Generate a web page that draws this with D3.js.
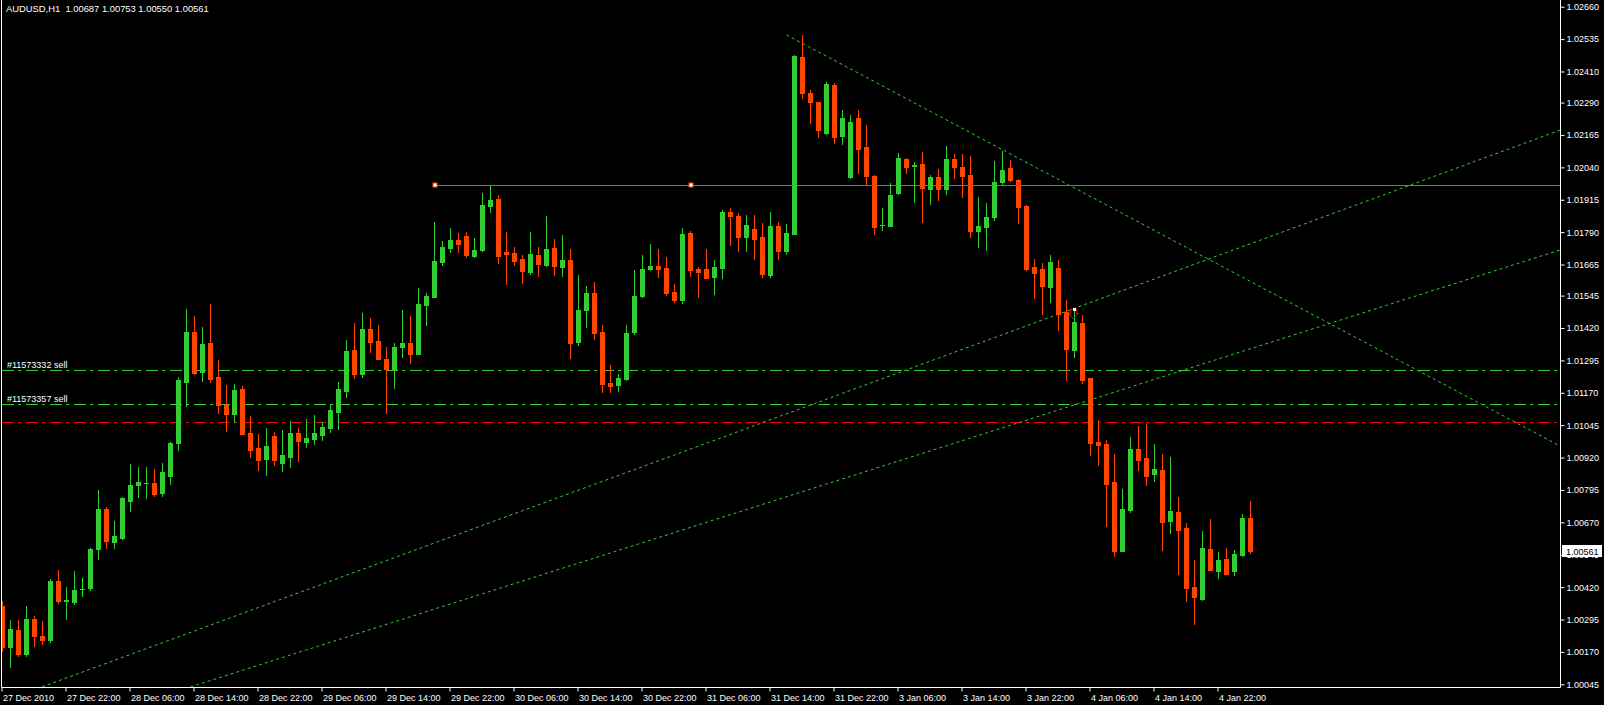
<!DOCTYPE html>
<html>
<head>
<meta charset="utf-8">
<script src="https://cdn.jsdelivr.net/npm/d3@7"></script>
<style>
  html, body { margin: 0; padding: 0; background: #000; }
  svg { display: block; }
  text { font-family: "Liberation Sans", Arial, sans-serif; }
</style>
</head>
<body>
<svg id="chart" width="1604" height="705"></svg>
<script>
// ---------------- DATA ----------------
const symbolTitle = "AUDUSD,H1";
const lastBarText = "1.00687 1.00753 1.00550 1.00561";

const open = [
1.00347,1.00189,1.00255,1.00162,1.00297,1.00232,1.00216,1.00444,1.00368,1.00363,
1.00413,1.00417,1.00567,1.00722,1.00594,1.00610,1.00753,1.00814,1.00820,1.00822,
1.00783,1.00849,1.00976,1.01212,1.01405,1.01250,1.01362,1.01231,1.01123,1.01088,
1.01185,1.01015,1.00957,1.00915,1.01003,1.00899,1.00922,1.01015,1.00980,1.00992,
1.01007,1.01034,1.01096,1.01177,1.01335,1.01243,1.01416,1.01370,1.01301,1.01262,
1.01347,1.01362,1.01320,1.01509,1.01540,1.01675,1.01729,1.01760,1.01775,1.01698,
1.01721,1.01891,1.01918,1.01713,1.01710,1.01686,1.01636,1.01702,1.01663,1.01729,
1.01656,1.01683,1.01366,1.01490,1.01555,1.01405,1.01208,1.01200,1.01223,1.01405,
1.01544,1.01648,1.01659,1.01652,1.01559,1.01528,1.01787,1.01648,1.01648,1.01617,
1.01652,1.01868,1.01852,1.01771,1.01802,1.01771,1.01625,1.01814,1.01717,1.01783,
1.02466,1.02327,1.02292,1.02173,1.02358,1.02161,1.02003,1.02231,1.02119,1.02007,
1.01816,1.01814,1.01941,1.02072,1.02047,1.02053,1.01957,1.02003,1.01957,1.02072,
1.02041,1.02011,1.01795,1.01810,1.01849,1.01984,1.02038,1.01991,1.01891,1.01656,
1.01648,1.01578,1.01652,1.01482,1.01335,1.01439,1.01227,1.00980,1.00973,1.00826,
1.00560,1.00718,1.00953,1.00919,1.00857,1.00872,1.00675,1.00710,1.00648,1.00421,
1.00374,1.00567,1.00482,1.00529,1.00482,1.00544,1.00687];

const high = [
1.00367,1.00293,1.00293,1.00347,1.00309,1.00290,1.00452,1.00486,1.00421,1.00482,
1.00455,1.00571,1.00795,1.00729,1.00675,1.00766,1.00895,1.00884,1.00884,1.00876,
1.00899,1.00980,1.01231,1.01494,1.01467,1.01424,1.01513,1.01297,1.01200,1.01204,
1.01196,1.01081,1.01011,1.01034,1.01019,1.01027,1.01061,1.01034,1.01069,1.01084,
1.01057,1.01127,1.01212,1.01374,1.01439,1.01478,1.01459,1.01432,1.01347,1.01362,
1.01490,1.01467,1.01575,1.01555,1.01829,1.01756,1.01806,1.01787,1.01791,1.01768,
1.01941,1.01968,1.01933,1.01791,1.01733,1.01702,1.01791,1.01733,1.01852,1.01764,
1.01779,1.01725,1.01625,1.01582,1.01598,1.01432,1.01277,1.01243,1.01432,1.01644,
1.01702,1.01744,1.01725,1.01694,1.01590,1.01806,1.01795,1.01656,1.01725,1.01683,
1.01876,1.01883,1.01864,1.01856,1.01856,1.01825,1.01868,1.01829,1.01822,1.02472,
1.02551,1.02339,1.02294,1.02370,1.02366,1.02261,1.02242,1.02261,1.02204,1.02009,
1.01883,1.01980,1.02096,1.02076,1.02061,1.02099,1.02011,1.02034,1.02123,1.02092,
1.02092,1.02084,1.01926,1.01903,1.02065,1.02103,1.02069,1.01995,1.01893,1.01686,
1.01671,1.01702,1.01683,1.01528,1.01497,1.01470,1.01229,1.01065,1.00988,1.00934,
1.00799,1.01000,1.01042,1.01050,1.00973,1.00934,1.00922,1.00768,1.00668,1.00525,
1.00637,1.00683,1.00556,1.00571,1.00563,1.00702,1.00753];

const low = [
1.00174,1.00112,1.00154,1.00154,1.00193,1.00201,1.00208,1.00359,1.00297,1.00355,
1.00386,1.00409,1.00529,1.00571,1.00571,1.00606,1.00714,1.00768,1.00764,1.00772,
1.00772,1.00818,1.00949,1.01119,1.01243,1.01216,1.01212,1.01092,1.01023,1.01057,
1.01011,1.00922,1.00872,1.00853,1.00892,1.00868,1.00884,1.00907,1.00961,1.00973,
1.00988,1.01019,1.01030,1.01154,1.01227,1.01231,1.01328,1.01301,1.01092,1.01189,
1.01308,1.01285,1.01318,1.01432,1.01538,1.01663,1.01713,1.01713,1.01694,1.01694,
1.01717,1.01868,1.01671,1.01590,1.01663,1.01594,1.01629,1.01621,1.01661,1.01625,
1.01621,1.01304,1.01355,1.01424,1.01378,1.01173,1.01173,1.01177,1.01221,1.01397,
1.01540,1.01644,1.01617,1.01548,1.01521,1.01517,1.01621,1.01540,1.01613,1.01551,
1.01613,1.01740,1.01717,1.01717,1.01686,1.01617,1.01617,1.01686,1.01706,1.01781,
1.02308,1.02211,1.02157,1.02169,1.02134,1.02130,1.01999,1.02018,1.01972,1.01783,
1.01798,1.01812,1.01937,1.02018,1.01906,1.01829,1.01899,1.01914,1.01937,1.01999,
1.01926,1.01771,1.01733,1.01721,1.01837,1.01976,1.01987,1.01825,1.01644,1.01536,
1.01474,1.01521,1.01412,1.01220,1.01308,1.01208,1.00930,1.00892,1.00656,1.00540,
1.00558,1.00710,1.00872,1.00814,1.00830,1.00563,1.00629,1.00471,1.00367,1.00278,
1.00372,1.00486,1.00455,1.00471,1.00467,1.00542,1.00550];

const close = [
1.00189,1.00259,1.00162,1.00297,1.00232,1.00216,1.00444,1.00367,1.00371,1.00409,
1.00413,1.00567,1.00722,1.00598,1.00618,1.00764,1.00814,1.00826,1.00822,1.00780,
1.00865,1.00976,1.01220,1.01405,1.01247,1.01358,1.01223,1.01123,1.01088,1.01181,
1.01011,1.00949,1.00911,1.00965,1.00911,1.00930,1.01015,1.00984,1.00996,1.01015,
1.01038,1.01104,1.01185,1.01331,1.01243,1.01416,1.01366,1.01301,1.01262,1.01347,
1.01362,1.01320,1.01513,1.01544,1.01679,1.01733,1.01760,1.01744,1.01702,1.01721,
1.01895,1.01914,1.01698,1.01706,1.01679,1.01640,1.01706,1.01667,1.01725,1.01659,
1.01683,1.01362,1.01490,1.01555,1.01401,1.01204,1.01196,1.01227,1.01401,1.01544,
1.01648,1.01659,1.01648,1.01555,1.01528,1.01783,1.01644,1.01636,1.01613,1.01656,
1.01868,1.01852,1.01771,1.01818,1.01764,1.01629,1.01814,1.01717,1.01787,1.02470,
1.02327,1.02292,1.02184,1.02362,1.02157,1.02231,1.02215,1.02111,1.02007,1.01810,
1.01818,1.01933,1.02076,1.02041,1.02049,1.01960,1.02003,1.01957,1.02072,1.02041,
1.02007,1.01795,1.01814,1.01849,1.01984,1.02030,1.01991,1.01887,1.01648,1.01632,
1.01582,1.01675,1.01474,1.01339,1.01443,1.01220,1.00976,1.00969,1.00818,1.00560,
1.00722,1.00953,1.00911,1.00849,1.00876,1.00672,1.00714,1.00641,1.00417,1.00382,
1.00571,1.00486,1.00525,1.00471,1.00548,1.00687,1.00561];

// time axis labels, one every 8 bars
const timeTickLabels = ["27 Dec 2010","27 Dec 22:00","28 Dec 06:00","28 Dec 14:00","28 Dec 22:00",
  "29 Dec 06:00","29 Dec 14:00","29 Dec 22:00","30 Dec 06:00","30 Dec 14:00","30 Dec 22:00",
  "31 Dec 06:00","31 Dec 14:00","31 Dec 22:00","3 Jan 06:00","3 Jan 14:00","3 Jan 22:00",
  "4 Jan 06:00","4 Jan 14:00","4 Jan 22:00"];
const barsPerTimeTick = 8;

// price axis labels
const priceTicks = [1.02660,1.02535,1.02410,1.02290,1.02165,1.02040,1.01915,1.01790,1.01665,
  1.01545,1.01420,1.01295,1.01170,1.01045,1.00920,1.00795,1.00670,1.00545,1.00420,1.00295,
  1.00170,1.00045];

// chart objects
const resistanceLevel = 1.01972;          // horizontal line
const resistanceAnchors = [54, 86];       // bar indexes of its two anchor points
const orderLabels = ["#11573332 sell", "#11573357 sell"];
const orderPrices = [1.01257, 1.01126];
const stopPrice = 1.01056;
// trendlines: [barIndex, price] pairs
const trendDown = [[98, 1.02551], [130, 1.02026]];
const trendUp1  = [[4.94, 1.00035], [133.8, 1.01494]];
const trendUp2  = [[23.5, 1.00035], [129.7, 1.01081]];
const tradeArrow = [133.8, 1.01494];
const lastPrice = 1.00561;

// ---------------- DRAW ----------------
const W = 1604, H = 705;
const plotRight = 1560, plotBottom = 687;
const svg = d3.select("#chart");
svg.append("rect").attr("width", W).attr("height", H).attr("fill", "#000");

const barStep = 8;
const x = d3.scaleLinear().domain([0, (plotRight - 2.5) / barStep]).range([2.5, plotRight]);
const y = d3.scaleLinear().domain([1.00045, 1.02660]).range([684.3, 6.7]);

const BULL = "#32CD32", BEAR = "#FF4500", DOJI = "#00FF00", LINEGREEN = "#32CD32";

svg.append("defs").append("clipPath").attr("id", "plotclip")
  .append("rect").attr("x", 2).attr("y", 0).attr("width", plotRight - 2).attr("height", plotBottom);

const plot = svg.append("g").attr("clip-path", "url(#plotclip)");

// horizontal order lines
const dashDot = "12,4,3,5";
orderPrices.forEach((p, k) => {
  const yy = Math.round(y(p)) + 0.5;
  plot.append("line").attr("x1", 2).attr("x2", plotRight).attr("y1", yy).attr("y2", yy)
    .attr("stroke", LINEGREEN).attr("stroke-width", 1).attr("stroke-dasharray", dashDot);
});
{
  const yy = Math.round(y(stopPrice)) + 0.5;
  plot.append("line").attr("x1", 2).attr("x2", plotRight).attr("y1", yy).attr("y2", yy)
    .attr("stroke", "#FF0000").attr("stroke-width", 1).attr("stroke-dasharray", dashDot);
}

// trendlines (rays extended to the right border)
const xMaxIdx = x.domain()[1];
function ray(anchors) {
  const [[i1, p1], [i2, p2]] = anchors;
  const slope = (p2 - p1) / (i2 - i1);
  const pEnd = p1 + slope * (xMaxIdx - i1);
  plot.append("line")
    .attr("x1", x(i1)).attr("y1", y(p1)).attr("x2", x(xMaxIdx)).attr("y2", y(pEnd))
    .attr("stroke", LINEGREEN).attr("stroke-width", 1).attr("stroke-dasharray", "3,3");
}
ray(trendDown); ray(trendUp1); ray(trendUp2);

// resistance horizontal line
{
  const yy = Math.round(y(resistanceLevel)) + 0.5;
  plot.append("line").attr("x1", x(resistanceAnchors[0])).attr("x2", plotRight)
    .attr("y1", yy).attr("y2", yy).attr("stroke", BEAR).attr("stroke-width", 1);
}

// candles
const bars = open.map((o, i) => ({ i, o, h: high[i], l: low[i], c: close[i] }));
const cg = plot.append("g");
bars.forEach(b => {
  const col = b.c > b.o ? BULL : (b.c < b.o ? BEAR : DOJI);
  const cx = Math.round(x(b.i) - 2.5);
  const yh = Math.round(y(b.h)), yl = Math.round(y(b.l));
  cg.append("rect").attr("x", cx + 2).attr("y", yh).attr("width", 1)
    .attr("height", Math.max(1, yl - yh + 1)).attr("fill", col);
  const yt = Math.round(y(Math.max(b.o, b.c))), yb = Math.round(y(Math.min(b.o, b.c)));
  cg.append("rect").attr("x", cx).attr("y", yt).attr("width", 5)
    .attr("height", Math.max(1, yb - yt + 1)).attr("fill", col);
});

// resistance anchor markers
resistanceAnchors.forEach(i => {
  const yy = Math.round(y(resistanceLevel));
  const xx = Math.round(x(i));
  plot.append("rect").attr("x", xx - 2).attr("y", yy - 2).attr("width", 4).attr("height", 4)
    .attr("fill", "#fff").attr("stroke", BEAR).attr("stroke-width", 1);
});

// trade arrow marker
{
  const ax = Math.round(x(tradeArrow[0])), ay = Math.round(y(tradeArrow[1]));
  plot.append("path")
    .attr("d", `M${ax-2.5},${ay+0.5} L${ax-2.5},${ay+4.5} L${ax-4.5},${ay+4.5} L${ax+0.5},${ay+9.5} L${ax+5.5},${ay+4.5} L${ax+3.5},${ay+4.5} L${ax+3.5},${ay+0.5} Z`)
    .attr("fill", "none").attr("stroke", "#FF0000").attr("stroke-width", 1);
  plot.append("rect").attr("x", ax).attr("y", ay - 1).attr("width", 3).attr("height", 3).attr("fill", "#fff");
}

// order labels
orderPrices.forEach((p, k) => {
  svg.append("text").attr("x", 7).attr("y", Math.round(y(p)) - 2)
    .attr("fill", "#fff").attr("font-size", "9px").text(orderLabels[k]);
});

// frame
const frame = svg.append("g").attr("stroke", "#fff").attr("stroke-width", 1).attr("fill", "none");
frame.append("path").attr("d", `M1.5,0 L1.5,${plotBottom + 0.5} L${plotRight + 0.5},${plotBottom + 0.5} L${plotRight + 0.5},0`);

// right price axis
const yAxis = d3.axisRight(y).tickValues(priceTicks).tickFormat(d3.format(".5f"))
  .tickSize(4).tickPadding(2).tickSizeOuter(0);
const ya = svg.append("g").attr("transform", `translate(${plotRight + 0.5},0)`).call(yAxis);
ya.select(".domain").remove();
ya.selectAll(".tick line").attr("stroke", "#fff");
ya.selectAll(".tick text").attr("fill", "#fff").attr("font-size", "9px")
  .attr("font-family", "Liberation Sans, Arial, sans-serif");

// bottom time axis
const tickIdx = timeTickLabels.map((_, k) => k * barsPerTimeTick);
const xAxis = d3.axisBottom(x).tickValues(tickIdx).tickFormat((d, k) => timeTickLabels[k])
  .tickSize(4).tickPadding(3).tickSizeOuter(0);
const xa = svg.append("g").attr("transform", `translate(-1,${plotBottom + 0.5})`).call(xAxis);
xa.select(".domain").remove();
xa.selectAll(".tick line").attr("stroke", "#fff");
xa.selectAll(".tick text").attr("fill", "#fff").attr("font-size", "9px")
  .attr("text-anchor", "start").attr("x", 1)
  .attr("font-family", "Liberation Sans, Arial, sans-serif");

// current price label
{
  const yy = Math.round(y(lastPrice));
  svg.append("rect").attr("x", plotRight + 2).attr("y", yy - 6).attr("width", W - plotRight - 4).attr("height", 12)
    .attr("fill", "#fff");
  svg.append("text").attr("x", plotRight + 6).attr("y", yy + 3.5).attr("fill", "#000")
    .attr("font-size", "9px").text(d3.format(".5f")(lastPrice));
}

// title
svg.append("text").attr("x", 6).attr("y", 12).attr("fill", "#fff").attr("font-size", "9.4px")
  .attr("xml:space", "preserve").text(symbolTitle + "  " + lastBarText);
</script>
</body>
</html>
